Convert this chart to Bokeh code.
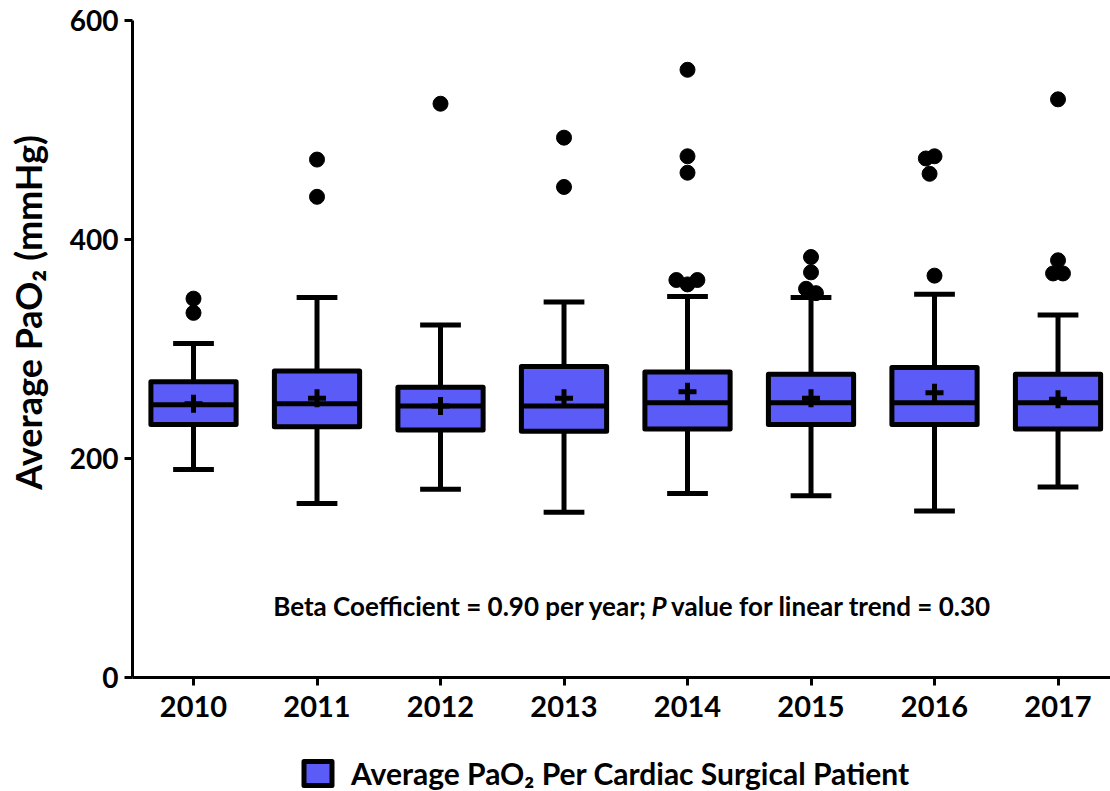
import math
from bokeh.plotting import figure
from bokeh.layouts import column, row
from bokeh.models import (Range1d, FixedTicker, Label, Legend, LegendItem,
                          ColumnDataSource)
from bokeh.core.properties import value
from bokeh.embed import file_html
from bokeh.resources import INLINE

# ---------------- data ----------------
years = ["2010", "2011", "2012", "2013", "2014", "2015", "2016", "2017"]
q1 = [231, 229, 226, 225, 227, 231, 231, 227]
median = [249, 250, 248, 248, 251, 251, 251, 251]
q3 = [270, 280, 265, 284, 279, 277, 283, 277]
mean = [250, 255, 248, 255, 261, 255, 260, 254]
whisker_low = [190, 159, 172, 151, 168, 166, 152, 174]
whisker_high = [305, 347, 322, 343, 348, 347, 350, 331]

outlier_year_index = [0, 0, 1, 1, 2, 3, 3, 4, 4, 4, 4, 4, 4,
                      5, 5, 5, 5, 6, 6, 6, 6, 7, 7, 7, 7]
outlier_value = [346, 333, 473, 439, 524, 493, 448, 555, 476, 461, 363, 359, 363,
                 384, 370, 355, 351, 474, 476, 460, 367, 528, 381, 369, 369]
outlier_dodge = [0, 0, 0, 0, 0, 0, 0, 0, 0, 0, -0.09, 0, 0.08,
                 0, 0, -0.04, 0.04, -0.07, 0, -0.04, 0, 0, 0, -0.04, 0.04]

y_ticks = [0, 200, 400, 600]
y_title = "Average PaO\u2082 (mmHg)"
legend_label = "Average PaO\u2082 Per Cardiac Surgical Patient"
note_left = "Beta Coefficient = 0.90 per year;"
note_p = "P"
note_right = "value for linear trend = 0.30"

# ---------------- styling ----------------
FONT = "Lato"
BOX_COLOR = "#5b5bf7"
LW = 5
TITLE_W = 60
MAIN_H = 745
LEG_H = 46

xs = list(range(len(years)))
box_w = 0.69
cap_w = 0.33

# ---------------- main plot ----------------
p = figure(width=1110 - TITLE_W, height=MAIN_H, output_backend="svg",
           toolbar_location=None,
           x_range=Range1d(-0.494, 7.425), y_range=Range1d(0, 600),
           min_border_left=132 - TITLE_W, min_border_right=0, min_border_top=20,
           min_border_bottom=MAIN_H - 677)
p.outline_line_color = None
p.xgrid.visible = False
p.ygrid.visible = False

src = ColumnDataSource(dict(x=xs, q1=q1, q3=q3, med=median, mean=mean,
                            lo=whisker_low, hi=whisker_high,
                            mx0=[x - box_w / 2 for x in xs],
                            mx1=[x + box_w / 2 for x in xs],
                            cx0=[x - cap_w / 2 for x in xs],
                            cx1=[x + cap_w / 2 for x in xs]))

p.segment(x0="x", y0="q3", x1="x", y1="hi", source=src, line_color="black", line_width=LW)
p.segment(x0="x", y0="q1", x1="x", y1="lo", source=src, line_color="black", line_width=LW)
p.segment(x0="cx0", y0="hi", x1="cx1", y1="hi", source=src, line_color="black", line_width=LW)
p.segment(x0="cx0", y0="lo", x1="cx1", y1="lo", source=src, line_color="black", line_width=LW)
p.vbar(x="x", width=box_w, bottom="q1", top="q3", source=src,
       fill_color=BOX_COLOR, line_color="black", line_width=LW, line_join="round")
p.segment(x0="mx0", y0="med", x1="mx1", y1="med", source=src, line_color="black", line_width=LW)
p.scatter(x="x", y="mean", source=src, marker="cross", size=18, line_color="black",
          line_width=5)

ox = [xs[i] + d for i, d in zip(outlier_year_index, outlier_dodge)]
p.scatter(x=ox, y=outlier_value, size=15, fill_color="black", line_color="black")

p.xaxis.ticker = FixedTicker(ticks=xs)
p.xaxis.major_label_overrides = {i: y for i, y in enumerate(years)}
p.yaxis.ticker = FixedTicker(ticks=y_ticks)
for ax in (p.xaxis[0], p.yaxis[0]):
    ax.axis_line_width = 3
    ax.axis_line_color = "black"
    ax.major_tick_line_width = 3
    ax.major_tick_line_color = "black"
    ax.major_tick_out = 8
    ax.major_tick_in = 0
    ax.minor_tick_line_color = None
    ax.major_label_text_font = FONT
    ax.major_label_text_font_style = "bold"
    ax.major_label_text_color = "black"
p.xaxis.major_label_text_font_size = "29px"
p.yaxis.major_label_text_font_size = "28px"
p.xaxis.major_label_standoff = 10
p.yaxis.major_label_standoff = 6

px = 3.77
common = dict(y=65, text_baseline="middle", text_font=FONT, text_font_size="26px",
              text_color="black")
p.add_layout(Label(x=px, x_offset=-12, text=note_left, text_align="right",
                   text_font_style="bold", **common))
p.add_layout(Label(x=px, text=note_p, text_align="center",
                   text_font_style="bold italic", **common))
p.add_layout(Label(x=px, x_offset=12, text=note_right, text_align="left",
                   text_font_style="bold", **common))

# ---------------- y title strip ----------------
t = figure(width=TITLE_W, height=MAIN_H, output_backend="svg", toolbar_location=None,
           x_range=Range1d(0, TITLE_W), y_range=Range1d(0, MAIN_H),
           x_axis_type=None, y_axis_type=None,
           min_border_left=0, min_border_right=0, min_border_top=0, min_border_bottom=0)
t.outline_line_color = None
t.grid.visible = False
t.text(x=[27], y=[MAIN_H - 331], text=[y_title], angle=math.pi / 2,
       text_align="center", text_baseline="middle", text_font=value(FONT),
       text_font_style="bold", text_font_size="36px", text_color="black")

# ---------------- legend strip ----------------
lg = figure(width=1110, height=LEG_H, output_backend="svg", toolbar_location=None,
            x_range=Range1d(0, 1110), y_range=Range1d(0, LEG_H),
            x_axis_type=None, y_axis_type=None,
            min_border_left=0, min_border_right=0, min_border_top=0, min_border_bottom=0)
lg.outline_line_color = None
lg.grid.visible = False
# proxy renderer (no drawable data) carrying the box style for the legend swatch
swatch = lg.vbar(x=[float("nan")], width=1, top=[float("nan")], bottom=[float("nan")],
                 fill_color=BOX_COLOR, line_color="black", line_width=LW,
                 line_join="round")
legend = Legend(items=[LegendItem(label=legend_label, renderers=[swatch])],
                location=(300, 0), orientation="horizontal",
                glyph_width=35, glyph_height=30, padding=0, margin=0,
                label_standoff=16, border_line_color=None,
                background_fill_alpha=0,
                label_text_font=FONT, label_text_font_style="bold",
                label_text_font_size="30px", label_text_color="black")
lg.add_layout(legend)

layout = column(row(t, p), lg)
open("out.html", "w").write(file_html(layout, INLINE))
